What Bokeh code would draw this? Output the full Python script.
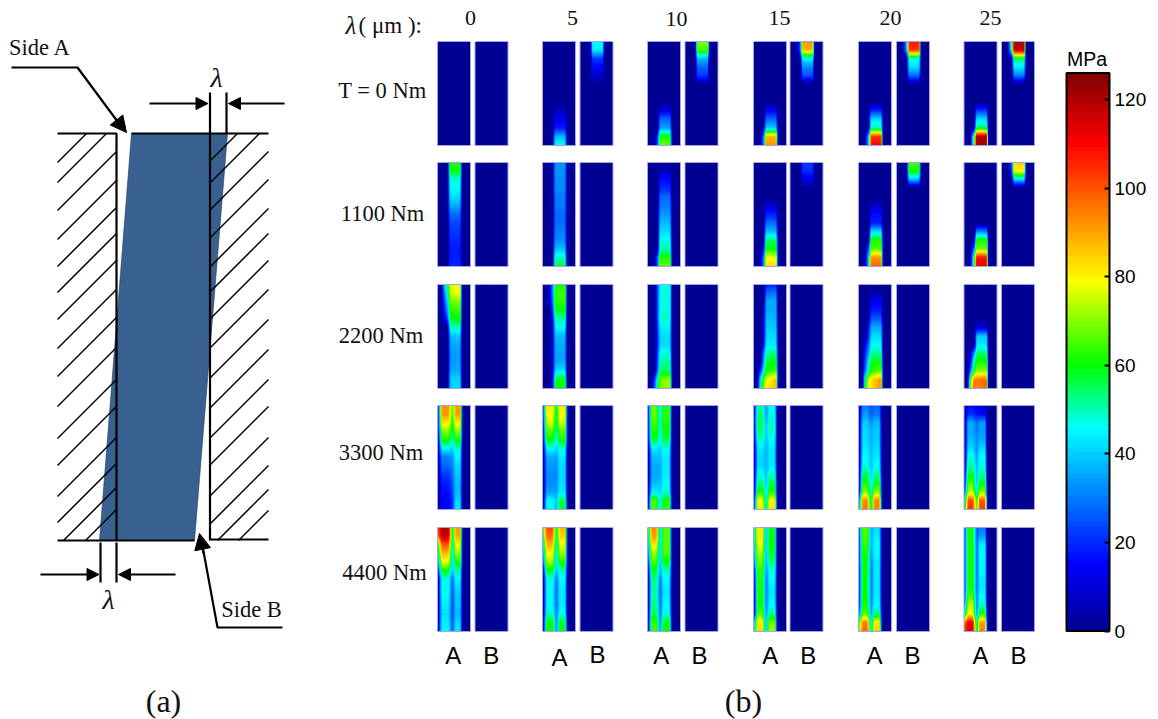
import numpy as np
from bokeh.plotting import figure
from bokeh.embed import file_html
from bokeh.resources import INLINE
from bokeh.core.properties import value
from bokeh.models import (Range1d, LinearColorMapper, ColorBar, FixedTicker, Arrow, NormalHead)

# ---------- data (MPa), rows run from top to bottom of a panel ----------
Z3 = [0, 0, 0]
Z4 = [0, 0, 0, 0]
LAMBDAS = ["0", "5", "10", "15", "20", "25"]
TORQUES = ["T = 0 Nm", "1100 Nm", "2200 Nm", "3300 Nm", "4400 Nm"]
COLORBAR_TICKS = [0, 20, 40, 60, 80, 100, 120]

# T = 0 Nm
T0_L5_A = [Z3]*8 + [[0,8,8],[0,14,14],[0,18,18],[0,38,38],[0,46,46]]
T0_L5_B = [[0,46,46],[0,44,44],[0,22,22],[0,14,14],[0,8,8]] + [Z3]*8
T0_L10_A = [Z3]*8 + [[0,12,12],[0,28,28],[0,35,35],[20,62,62],[25,68,68]]
T0_L10_B = [[0,70,70],[0,66,66],[0,38,38],[0,27,27],[0,22,22]] + [Z3]*8
T0_L15_A = [Z3]*8 + [[0,14,14],[0,28,28],[0,40,40],[30,88,88],[30,92,92]]
T0_L15_B = [[25,92,92],[25,88,88],[0,45,45],[0,32,32],[0,24,24]] + [Z3]*8
T0_L20_A = [Z3]*8 + [[0,20,20],[0,42,42],[0,50,50],[40,105,105],[40,110,110]]
T0_L20_B = [[40,108,108],[38,104,104],[0,48,48],[0,42,42],[0,28,28]] + [Z3]*8
T0_L25_A = [Z3]*8 + [[0,22,22],[0,42,42],[0,55,55],[60,120,120],[60,122,122]]
T0_L25_B = [[60,122,122],[55,118,118],[0,55,55],[0,44,44],[0,30,30]] + [Z3]*8

# T = 1100 Nm
T1_L0_A = [[0,v,v] for v in [62,60,48,46,42,36,28,24,22,20,18,18,20]]
T1_L5_A = [[0,v,v] for v in [33,33,32,32,30,30,28,28,30,32,38,50,56]]
T1_L10_A = [[0,0,0],[0,6,6],[0,16,16],[0,20,20],[0,28,28],[0,30,30],[0,34,34],[0,38,38],[0,42,42],[0,48,48],[0,50,50],[25,62,62],[25,68,68]]
T1_L15_A = [Z3]*5 + [[0,10,10],[0,18,18],[0,28,28],[0,38,38],[0,55,55],[10,60,60],[30,78,78],[30,84,84]]
T1_L15_B = [[0,22,22],[0,20,20],[0,12,12]] + [Z3]*10
T1_L20_A = [Z3]*5 + [[0,8,8],[0,16,16],[0,18,18],[0,42,42],[0,62,62],[25,66,66],[40,92,92],[40,98,98]]
T1_L20_B = [[0,65,65],[0,62,62],[0,38,38]] + [Z3]*10
T1_L25_A = [Z3]*8 + [[0,32,32],[0,62,62],[30,68,68],[55,108,108],[55,112,112]]
T1_L25_B = [[25,85,85],[20,80,80],[0,42,42]] + [Z3]*10

# T = 2200 Nm
T2_L0_A = [[40,60,75,80],[30,52,75,80],[25,40,68,70],[18,35,62,65],[10,25,58,62],[0,0,50,50],[0,0,38,40],[0,0,35,36],[0,0,33,35],[0,0,33,35],[0,0,35,37],[0,0,40,42],[0,0,40,42]]
T2_L5_A = [[10,30,60,62],[10,30,64,66],[10,25,62,64],[0,20,58,60],[0,10,50,52],[0,8,45,46],[0,8,38,38],[0,8,36,36],[0,8,35,35],[0,8,35,36],[0,8,42,44],[0,10,58,62],[0,10,60,62]]
T2_L10_A = [[0,25,46,48],[0,25,47,48],[0,25,48,48],[0,25,48,48],[0,25,50,48],[0,22,44,45],[0,20,42,42],[0,20,42,42],[0,22,48,48],[0,25,52,52],[0,28,56,54],[20,50,68,72],[25,55,70,72]]
T2_L15_A = [[0,0,18,20],[0,0,28,30],[0,0,36,36],[0,5,36,36],[0,10,38,38],[0,10,40,40],[0,10,42,42],[0,15,44,44],[0,30,52,54],[0,35,58,60],[20,45,60,66],[45,65,76,88],[50,70,80,88]]
T2_L20_A = [Z4,[0,0,4,4],[0,0,14,14],[0,0,18,18],[0,5,26,26],[0,15,36,36],[0,20,42,42],[15,28,46,46],[20,35,52,52],[25,45,60,60],[30,50,62,68],[55,78,82,92],[60,80,82,94]]
T2_L25_A = [Z4]*5 + [[0,0,10,10],[0,0,40,40],[0,0,44,44],[10,35,55,55],[20,50,62,62],[30,60,70,70],[70,95,95,98],[75,98,92,100]]

# T = 3300 Nm
T3_L0_A = [[8,92,62,92],[8,92,60,92],[5,82,58,82],[5,70,54,70],[0,62,46,62],[0,45,40,50],[0,30,33,45],[0,28,30,42],[0,22,28,40],[0,18,26,38],[0,16,24,38],[0,14,20,42],[0,14,20,44]]
T3_L5_A = [[15,82,52,82],[15,80,52,80],[10,76,52,76],[8,66,50,66],[5,60,44,62],[0,46,40,48],[0,36,34,44],[0,34,32,42],[0,32,32,42],[0,32,32,42],[0,35,34,44],[0,46,38,56],[0,46,36,58]]
T3_L10_A = [[10,68,40,62],[10,68,42,64],[10,66,46,62],[8,62,46,60],[5,58,44,56],[0,44,40,48],[0,38,38,44],[0,36,36,44],[0,36,36,44],[0,38,38,46],[0,44,42,48],[0,66,40,62],[0,66,40,64]]
T3_L15_A = [[8,52,32,46],[8,54,32,48],[8,56,36,50],[5,54,38,50],[5,50,38,46],[0,44,36,44],[0,42,36,44],[0,42,36,44],[0,48,38,50],[0,54,38,56],[0,62,40,62],[10,80,42,80],[15,82,44,82]]
T3_L20_A = [[0,30,24,28],[0,34,24,30],[0,40,32,38],[0,42,36,40],[0,42,36,40],[0,44,36,42],[0,46,38,44],[0,48,38,46],[0,56,40,52],[0,62,42,60],[5,70,44,70],[25,94,48,94],[30,96,50,94]]
T3_L25_A = [[0,15,12,10],[0,20,16,14],[0,36,28,34],[0,36,30,34],[0,38,32,36],[0,42,32,42],[0,48,34,46],[0,52,36,48],[5,58,38,52],[8,66,38,60],[15,74,44,70],[40,102,60,100],[45,104,62,102]]

# T = 4400 Nm
T4_L0_A = [[100,120,50,92],[95,118,48,90],[55,100,46,80],[45,88,40,72],[30,78,38,62],[15,60,36,52],[0,47,26,46],[0,47,24,42],[0,46,22,40],[0,44,22,40],[0,42,22,38],[0,44,24,42],[0,46,24,44]]
T4_L5_A = [[60,102,50,88],[55,98,48,85],[40,88,46,78],[30,80,42,72],[20,72,40,62],[5,58,36,50],[0,48,28,46],[0,46,26,44],[0,46,26,44],[0,46,26,44],[0,50,28,48],[0,60,30,58],[0,62,30,60]]
T4_L10_A = [[40,94,38,66],[38,92,38,66],[30,82,38,66],[25,72,38,66],[15,66,36,60],[5,58,34,50],[0,54,28,46],[0,52,26,44],[0,52,26,44],[0,54,26,46],[0,56,28,48],[0,64,30,60],[0,66,30,62]]
T4_L15_A = [[42,82,36,58],[42,82,36,60],[38,78,36,60],[30,72,36,58],[25,68,34,54],[10,64,32,48],[5,62,28,46],[0,62,28,44],[0,62,28,44],[0,62,30,46],[0,66,32,52],[35,82,36,70],[40,84,36,72]]
T4_L20_A = [[20,68,34,42],[18,66,34,44],[18,64,34,46],[18,62,32,46],[18,60,30,44],[15,60,28,44],[15,60,28,44],[15,60,28,44],[15,60,28,44],[15,62,30,46],[25,66,32,54],[60,95,40,82],[65,98,42,84]]
T4_L25_A = [[18,60,25,30],[18,62,26,34],[18,62,28,44],[18,62,28,46],[18,62,28,46],[18,62,28,46],[18,62,28,44],[18,62,28,44],[20,66,30,46],[28,74,30,50],[45,80,32,62],[95,112,48,92],[100,114,50,94]]

PANELS = {
    (0,1,"A"):T0_L5_A,(0,1,"B"):T0_L5_B,(0,2,"A"):T0_L10_A,(0,2,"B"):T0_L10_B,
    (0,3,"A"):T0_L15_A,(0,3,"B"):T0_L15_B,(0,4,"A"):T0_L20_A,(0,4,"B"):T0_L20_B,
    (0,5,"A"):T0_L25_A,(0,5,"B"):T0_L25_B,
    (1,0,"A"):T1_L0_A,(1,1,"A"):T1_L5_A,(1,2,"A"):T1_L10_A,(1,3,"A"):T1_L15_A,(1,3,"B"):T1_L15_B,
    (1,4,"A"):T1_L20_A,(1,4,"B"):T1_L20_B,(1,5,"A"):T1_L25_A,(1,5,"B"):T1_L25_B,
    (2,0,"A"):T2_L0_A,(2,1,"A"):T2_L5_A,(2,2,"A"):T2_L10_A,(2,3,"A"):T2_L15_A,(2,4,"A"):T2_L20_A,(2,5,"A"):T2_L25_A,
    (3,0,"A"):T3_L0_A,(3,1,"A"):T3_L5_A,(3,2,"A"):T3_L10_A,(3,3,"A"):T3_L15_A,(3,4,"A"):T3_L20_A,(3,5,"A"):T3_L25_A,
    (4,0,"A"):T4_L0_A,(4,1,"A"):T4_L5_A,(4,2,"A"):T4_L10_A,(4,3,"A"):T4_L15_A,(4,4,"A"):T4_L20_A,(4,5,"A"):T4_L25_A,
}

# ---------- layout (page pixels) ----------
W, H = 1158, 719
def Y(v):
    return 719 - np.asarray(v, float)

PANEL_W, PANEL_H = 33, 104
A_LEFT = [437, 542, 647, 753, 858, 963.5]
B_LEFT = [474.5, 579.5, 684.5, 789.5, 896, 1001]
ROW_TOP = [41, 162, 284, 405, 527]
NOTCH = [.45, .42, .38, .38, .38, .38]
RIDGE = [.62, .62, .60, .58, .57, .57]
VMAX = 126

# colour stops: (MPa, r, g, b)
STOPS = [(0,0,0,143),(15,0,0,255),(46,0,255,255),(60,0,255,0),(79,255,255,0),(110,255,0,0),(126,128,0,0)]
def ramp(n):
    vs = (np.arange(n) + .5) / n * VMAX
    s = np.array(STOPS, float)
    return ["#%02x%02x%02x" % tuple(int(np.interp(v, s[:, 0], s[:, k])) for k in (1, 2, 3)) for v in vs]
PALETTE = ramp(128)
mapper = LinearColorMapper(palette=PALETTE, low=0, high=VMAX)

def shade(matrix, row, col):
    m = np.array(matrix, float)
    nc = m.shape[1]
    z = np.zeros(13)
    if nc == 3:
        xn = [.17, .30, .37, .68, .74]
        m = np.c_[z, m, z]
    elif row == 2:
        xn = [.10, .20, .30, .38, .68, .74]
        m = np.c_[z, m, z]
    else:
        n, rr = NOTCH[col], RIDGE[col]
        xn = [0, .12, n - .12, n, n + .09, rr + .06, rr + .14]
        m = np.c_[m[:, 0], m[:, 1], m[:, 1], m[:, 2], m[:, 3], m[:, 3], z]
    s = 2
    ox = (np.arange(PANEL_W*s) + .5) / (PANEL_W*s)
    oy = (np.arange(PANEL_H*s) + .5) / (PANEL_H*s)
    yn = np.linspace(0, 1, 13)
    vert = np.array([np.interp(oy, yn, m[:, j]) for j in range(m.shape[1])]).T
    img = np.array([np.interp(ox, xn, r) for r in vert])
    k = np.array([1, 2, 1.]) / 4
    pad = np.pad(img, 1, mode="edge")
    pad = np.apply_along_axis(lambda a: np.convolve(a, k, "same"), 0, pad)
    pad = np.apply_along_axis(lambda a: np.convolve(a, k, "same"), 1, pad)
    return pad[1:-1, 1:-1][::-1]

p = figure(width=W, height=H, x_range=Range1d(0, W), y_range=Range1d(0, H),
           output_backend="svg", toolbar_location=None, min_border=0)
p.axis.visible = False
p.grid.visible = False
p.outline_line_color = None
p.background_fill_color = "white"

SERIF = value("Liberation Serif")
SANS = value("Liberation Sans")
def txt(x, y, s, font=SERIF, size=19, align="center", style="normal", color="#111111"):
    p.text([x], [Y(y)], text=[s], text_font=font, text_font_size=f"{size}px", text_align=align,
           text_baseline="middle", text_font_style=style, text_color=color)

# ---------- panel (a) ----------
BLUE = "#386192"
p.patch([131, 227, 194, 99], Y([133, 133, 540, 540]), fill_color=BLUE, line_color="#1e3a5c", line_width=0.6)

def hatch(cs, xa, xb):
    for c in cs:
        x0 = max(xa, c - 540); x1 = min(xb, c - 133)
        if x1 > x0:
            p.line([x0, x1], Y([c - x0, c - x1]), line_color="black", line_width=1.5)
hatch([219, 239, 267, 296, 323, 349, 376, 405, 433, 463, 495, 522, 553, 579, 603, 625], 57, 116)
hatch([370, 392, 419, 447, 476, 501, 528, 557, 587, 617, 647, 674, 705, 733, 757, 778], 210, 268)

def seg(xs, ys, w=2.2):
    p.line(xs, Y(ys), line_color="black", line_width=w)
seg([57, 116, 116], [133, 133, 540])
seg([131, 268], [133, 133])
seg([57, 194], [540, 540])
seg([210, 268], [539, 539])
seg([209.5, 209.5], [92, 540])
seg([226, 226], [92, 133])
seg([100, 100], [542, 582])
seg([116, 116], [542, 582])
seg([11, 77, 120], [67, 67, 125])
seg([282, 217, 201], [627, 627, 540])

def arrow(x0, y0, x1, y1, size=12):
    p.add_layout(Arrow(end=NormalHead(size=size, fill_color="black", line_color="black", line_width=1),
                       x_start=x0, y_start=float(Y(y0)), x_end=x1, y_end=float(Y(y1)),
                       line_color="black", line_width=2))
arrow(149, 103, 207.5, 103)
arrow(284, 103, 228, 103)
arrow(40, 574, 98.5, 574)
arrow(175, 574, 118, 574)
arrow(118, 122, 126, 132, 16)
arrow(203, 553, 199, 533, 16)

txt(39.5, 47, "Side A", size=22.5)
txt(251, 609, "Side B", size=22.5)
txt(216, 77, "λ", size=28, style="italic")
txt(108, 599, "λ", size=28, style="italic")
txt(163, 700, "(a)", size=32)
txt(743, 700, "(b)", size=32)

# ---------- panel (b) ----------
ZERO3 = [Z3]*13
for r, top in enumerate(ROW_TOP):
    for c in range(6):
        for side, left in (("A", A_LEFT[c]), ("B", B_LEFT[c])):
            img = shade(PANELS.get((r, c, side), ZERO3), r, c)
            p.image(image=[img], x=left, y=Y(top + PANEL_H), dw=PANEL_W, dh=PANEL_H, color_mapper=mapper)
            p.line([left, left + PANEL_W, left + PANEL_W, left, left],
                   Y([top, top, top + PANEL_H, top + PANEL_H, top]), line_color="#a4a4e4", line_width=1)

txt(345, 25, "λ", size=25, style="italic", align="left")
txt(358, 25, "( μm ):", size=23, align="left")
for s, x, y in zip(LAMBDAS, [470, 572, 676, 779, 890, 990], [17, 17, 18, 17, 17, 17]):
    txt(x, y, s, size=22)
for s, x, y in zip(TORQUES, [382, 382, 380.5, 380.5, 384], [90, 213, 335, 452, 572]):
    txt(x, y, s, size=22.5)

AX = [452.7, 559, 660.7, 769.7, 874, 980]
BX = [490.7, 597, 699, 807.7, 912, 1018]
AY = [655, 657, 655, 655, 655, 655]
BY = [655, 654, 655, 655, 655, 655]
for x, y in zip(AX, AY):
    txt(x, y, "A", font=SANS, size=24, color="black")
for x, y in zip(BX, BY):
    txt(x, y, "B", font=SANS, size=24, color="black")

txt(1086.5, 58, "MPa", font=SANS, size=19.5, color="black")

cb = ColorBar(color_mapper=mapper, location=(1066, 719 - 630.5), width=43, height=558, padding=0, margin=0,
              ticker=FixedTicker(ticks=COLORBAR_TICKS), major_tick_line_color="black", major_tick_line_width=2,
              major_tick_in=5, major_tick_out=0, minor_tick_line_color=None,
              bar_line_color="black", bar_line_width=2, border_line_color=None, background_fill_color=None,
              major_label_text_font="Liberation Sans", major_label_text_font_size="19px",
              major_label_text_color="black", label_standoff=5)
p.add_layout(cb, "center")
p.segment([1066]*7, Y([630.5 - 4.433*t for t in COLORBAR_TICKS]), [1071]*7, Y([630.5 - 4.433*t for t in COLORBAR_TICKS]),
          line_color="black", line_width=2)

open("out.html", "w").write(file_html(p, INLINE))
